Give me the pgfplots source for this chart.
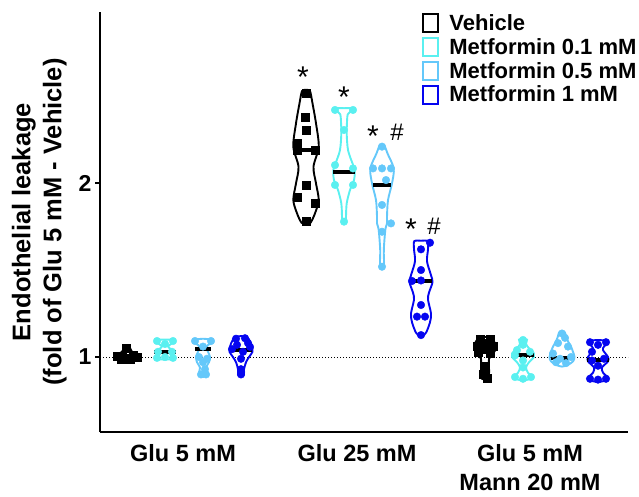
\documentclass[border=0pt]{standalone}
\usepackage{pgfplots}
\pgfplotsset{compat=1.18}
\usepackage{fontspec}
\setmainfont{Liberation Sans}
\definecolor{cveh}{RGB}{0,0,0}
\definecolor{cmA}{RGB}{90,240,240}
\definecolor{cmB}{RGB}{100,200,250}
\definecolor{cmC}{RGB}{5,5,240}
\begin{document}
\begin{tikzpicture}
\useasboundingbox (0,0) rectangle (639pt,496pt);
\begin{axis}[
  at={(100pt,64pt)}, anchor=south west,
  scale only axis, width=528pt, height=420pt,
  xmin=100, xmax=628, ymin=0.569, ymax=2.983,
  axis x line=bottom, axis y line=left,
  axis line style={line width=2pt,-},
  ytick={1,2}, tick align=outside, major tick length=5pt,
  ytick style={line width=1.5pt, black},
  xtick={183,357,530},
  xticklabels={Glu 5 mM, Glu 25 mM, {Glu 5 mM\\Mann 20 mM}},
  xtick style={draw=none},
  /pgf/number format/assume math mode=true,
  yticklabel style={font=\fontsize{23}{26}\selectfont\bfseries},
  xticklabel style={align=center, font=\fontsize{23.5}{28.5}\selectfont\bfseries, yshift=-4pt},
  ylabel={Endothelial leakage\\(fold of Glu 5 mM - Vehicle)},
  every axis y label/.style={at={(axis description cs:-0.115,0.5)}, rotate=90, anchor=center, align=center, font=\fontsize{25.5}{31}\selectfont\bfseries},
  legend style={at={(axis description cs:0.61,1.0)}, anchor=north west, draw=none, fill=none, inner sep=0pt, row sep=2.5pt, font=\fontsize{22}{24}\selectfont\bfseries},
  legend cell align=left,
  legend image code/.code={\draw[#1, line width=1.8pt, fill=white] (0pt,-9pt) rectangle (15pt,9pt); \path (24pt,0pt);},
  clip=false,
  violin/.style={line width=1.9pt, smooth, tension=0.5, forget plot},
  circ/.style={only marks, mark=*, mark size=3.8pt, forget plot},
  sq/.style={only marks, mark=square*, mark size=4pt, forget plot},
  med/.style={black, line width=4pt, forget plot},
]
% reference line
\addplot[black, dotted, line width=1pt, forget plot] coordinates {(100,1) (628,1)};

% ===== violins =====
% Glu 5 mM
\addplot[violin, cveh] coordinates {(127,1.058) (130,1.052) (132,1.03) (137,1.012) (137,0.995) (132,0.982) (127,0.978) (122,0.982) (117,0.995) (117,1.012) (122,1.03) (124,1.052) (127,1.058)};
\addplot[violin, cmA] coordinates {(165,1.10) (174,1.097) (171,1.075) (168,1.06) (171,1.045) (174,1.03) (171,1.01) (173,1.0) (174,0.99) (165,0.985) (156,0.99) (157,1.0) (159,1.01) (156,1.03) (159,1.045) (162,1.06) (159,1.075) (156,1.097) (165,1.10)};
\addplot[violin, cmB] coordinates {(203,1.105) (212,1.10) (213,1.085) (208,1.07) (206.5,1.05) (208,1.03) (210,1.0) (209,0.97) (206,0.94) (207,0.91) (206,0.895) (203,0.885) (200,0.895) (199,0.91) (200,0.94) (197,0.97) (196,1.0) (198,1.03) (199.5,1.05) (198,1.07) (193,1.085) (194,1.10) (203,1.105)};
\addplot[violin, cmC] coordinates {(241,1.12) (247,1.115) (250,1.09) (252,1.06) (252.5,1.03) (249,1.0) (246,0.97) (244,0.93) (244,0.9) (241,0.885) (238,0.9) (238,0.93) (236,0.97) (233,1.0) (229.5,1.03) (230,1.06) (232,1.09) (235,1.115) (241,1.12)};
% Glu 25 mM
\addplot[violin, cveh] coordinates {(306,2.535) (310,2.528) (312.5,2.458) (316,2.343) (318.7,2.209) (313.5,2.094) (316,1.998) (318.7,1.902) (315,1.826) (310.5,1.772) (306,1.762) (301.5,1.772) (297,1.826) (293.3,1.902) (296,1.998) (298.5,2.094) (293.3,2.209) (296,2.343) (299.5,2.458) (302,2.528) (306,2.535)};
\addplot[violin, cmA] coordinates {(344,2.43) (353,2.428) (348.5,2.40) (347.3,2.381) (346.7,2.285) (348,2.19) (352,2.12) (354.7,2.075) (354,2.017) (350,1.96) (346.7,1.883) (346,1.806) (346,1.775) (344,1.765) (342,1.775) (342,1.806) (341.3,1.883) (338,1.96) (334,2.017) (333.3,2.075) (336,2.12) (340,2.19) (341.3,2.285) (340.7,2.381) (339.5,2.40) (335,2.428) (344,2.43)};
\addplot[violin, cmB] coordinates {(382,2.222) (384.5,2.215) (387.5,2.17) (393.7,2.084) (392,1.998) (388,1.902) (387,1.806) (387,1.768) (385.3,1.73) (383.8,1.615) (384,1.53) (382,1.51) (380,1.53) (380.2,1.615) (378.7,1.73) (377,1.768) (377,1.806) (376,1.902) (372,1.998) (370.3,2.084) (376.5,2.17) (379.5,2.215) (382,2.222)};
\addplot[violin, cmC] coordinates {(421,1.668) (427.7,1.666) (428,1.62) (427,1.55) (431,1.47) (432.5,1.43) (429,1.37) (428,1.33) (431,1.25) (430,1.2) (426,1.14) (421,1.115) (416,1.14) (412,1.2) (411,1.25) (414,1.33) (413,1.37) (409.5,1.43) (411,1.47) (415,1.55) (414,1.62) (414.3,1.666) (421,1.668)};
% Glu 5 mM + Mann 20 mM
\addplot[violin, cveh] coordinates {(485,1.115) (491,1.11) (495,1.08) (496,1.05) (493,1.02) (489,0.99) (489,0.95) (489,0.90) (488,0.875) (485,0.868) (482,0.875) (481,0.90) (481,0.95) (481,0.99) (477,1.02) (474,1.05) (475,1.08) (479,1.11) (485,1.115)};
\addplot[violin, cmA] coordinates {(523,1.105) (527,1.10) (526,1.075) (529,1.05) (534,1.02) (534,1.0) (529,0.97) (526,0.94) (528,0.91) (532,0.885) (528,0.87) (523,0.865) (518,0.87) (514,0.885) (518,0.91) (520,0.94) (517,0.97) (512,1.0) (512,1.02) (517,1.05) (520,1.075) (519,1.10) (523,1.105)};
\addplot[violin, cmB] coordinates {(562,1.148) (565,1.14) (566,1.12) (568,1.09) (571,1.06) (573,1.03) (574.5,1.0) (573,0.975) (568,0.955) (562,0.945) (556,0.955) (551,0.975) (549.5,1.0) (551,1.03) (553,1.06) (556,1.09) (558,1.12) (559,1.14) (562,1.148)};
\addplot[violin, cmC] coordinates {(598,1.097) (606,1.095) (608,1.085) (604,1.06) (603,1.04) (608,1.0) (608,0.975) (602,0.94) (603,0.91) (608,0.88) (604,0.862) (598,0.858) (592,0.862) (588,0.88) (593,0.91) (594,0.94) (588,0.975) (588,1.0) (593,1.04) (592,1.06) (588,1.085) (590,1.095) (598,1.097)};

% ===== individual points =====
\addplot[sq, cveh] coordinates {(126,1.05) (117,1.005) (122,1.0) (128,0.995) (133,1.01) (137,1.0) (121,0.99) (130,0.985)};
\addplot[circ, cmA] coordinates {(157,1.092) (173,1.092) (165,1.075) (158,1.03) (172,1.03) (157,0.995) (173,0.995) (165,1.0)};
\addplot[circ, cmB] coordinates {(195,1.092) (211,1.092) (203,1.06) (199,1.0) (207,0.99) (203,0.97) (205,0.93) (201,0.9) (206,0.9)};
\addplot[circ, cmC] coordinates {(236,1.105) (245,1.108) (248,1.08) (237,1.07) (250,1.058) (232,1.045) (243,1.03) (241,0.99) (241,0.93) (241,0.9)};

\addplot[sq, cveh] coordinates {(306,2.519) (305,2.381) (306,2.305) (297,2.23) (297,2.19) (315,2.19) (306,1.989) (297,1.921) (315,1.885) (306,1.778)};
\addplot[circ, cmA] coordinates {(335,2.42) (353,2.42) (344,2.305) (335,2.103) (353,2.084) (335,1.989) (353,1.989) (344,1.778)};
\addplot[circ, cmB] coordinates {(382,2.209) (373,2.084) (382,2.084) (391,2.084) (386,2.017) (382,1.874) (391,1.768) (382,1.72) (382,1.519)};
\addplot[circ, cmC] coordinates {(430,1.657) (421,1.619) (421,1.5) (421,1.44) (412,1.437) (421,1.299) (417,1.232) (425,1.232) (421,1.126)};

\addplot[sq, cveh] coordinates {(480,1.1) (490,1.1) (485,1.08) (477,1.06) (493,1.06) (485,1.045) (478,1.03) (490,1.02) (484,0.95) (483,0.9) (487,0.88)};
\addplot[circ, cmA] coordinates {(523,1.098) (523,1.07) (517,1.04) (530,1.03) (515,1.01) (523,0.98) (523,0.94) (515,0.885) (531,0.885) (523,0.875)};
\addplot[circ, cmB] coordinates {(562,1.135) (565,1.11) (558,1.08) (568,1.06) (553,1.02) (571,1.0) (560,0.99) (556,0.97) (566,0.965)};
\addplot[circ, cmC] coordinates {(590,1.085) (606,1.085) (598,1.07) (592,1.03) (604,0.99) (592,0.98) (598,0.95) (590,0.875) (606,0.875) (598,0.87)};

% ===== medians =====
\addplot[med] coordinates {(116,1.0) (138,1.0)};
\addplot[med] coordinates {(154,1.03) (176,1.03)};
\addplot[med] coordinates {(195,1.046) (211,1.046)};
\addplot[med] coordinates {(230,1.04) (252,1.04)};
\addplot[med] coordinates {(295,2.19) (317,2.19)};
\addplot[med] coordinates {(333,2.065) (355,2.065)};
\addplot[med] coordinates {(373,1.989) (391,1.989)};
\addplot[med] coordinates {(410,1.437) (432,1.437)};
\addplot[med] coordinates {(474,1.05) (496,1.05)};
\addplot[med] coordinates {(512,1.01) (534,1.01)};
\addplot[med] coordinates {(551,0.994) (573,0.994)};
\addplot[med] coordinates {(587,0.983) (609,0.983)};

% ===== significance marks =====
\node[anchor=north, inner sep=0pt, font=\fontsize{30}{30}\selectfont] at (axis cs:303,2.667) {*};
\node[anchor=north, inner sep=0pt, font=\fontsize{30}{30}\selectfont] at (axis cs:344,2.552) {*};
\node[anchor=north, inner sep=0pt, font=\fontsize{30}{30}\selectfont] at (axis cs:373,2.328) {*};
\node[anchor=north, inner sep=0pt, font=\fontsize{24}{24}\selectfont] at (axis cs:397,2.339) {\#};
\node[anchor=north, inner sep=0pt, font=\fontsize{30}{30}\selectfont] at (axis cs:411,1.793) {*};
\node[anchor=north, inner sep=0pt, font=\fontsize{24}{24}\selectfont] at (axis cs:434,1.799) {\#};

% ===== legend =====
\addlegendimage{draw=cveh}
\addlegendentry{Vehicle}
\addlegendimage{draw=cmA}
\addlegendentry{Metformin 0.1 mM}
\addlegendimage{draw=cmB}
\addlegendentry{Metformin 0.5 mM}
\addlegendimage{draw=cmC}
\addlegendentry{Metformin 1 mM}
\end{axis}
\end{tikzpicture}
\end{document}
